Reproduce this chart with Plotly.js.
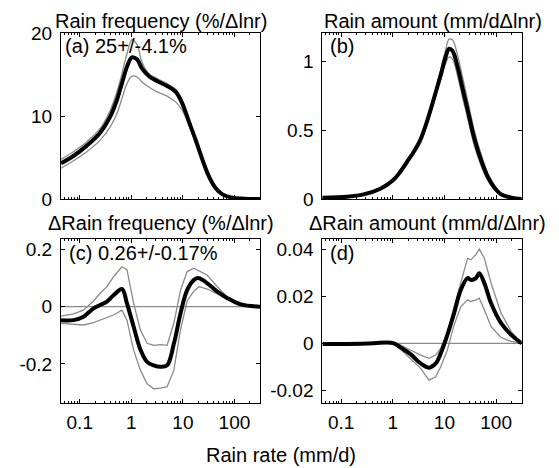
<!DOCTYPE html>
<html>
<head>
<meta charset="utf-8">
<script src="https://cdn.plot.ly/plotly-3.0.1.min.js"></script>
<style>html,body{margin:0;padding:0;background:#fff}#chart{width:559px;height:468px}</style>
</head>
<body>
<div id="chart"></div>
<script>
// ---------- DATA ----------
// (a) Rain frequency (%/Δlnr)
const rateA = [0.0433,0.0753,0.137,0.249,0.390,0.526,0.658,0.824,1.03,1.29,1.61,2.18,3.16,4.95,7.2,9.7,13.1,17.7,23.8,32.1,43.3,58.4,84.9,154,313];
const freqMean = [4.30,5.18,6.43,7.99,9.92,11.93,13.94,15.94,17.07,16.83,15.74,14.82,14.22,13.61,12.93,11.53,9.32,7.11,4.78,2.69,1.29,0.56,0.20,0.04,0];
const freqHigh = [4.78,5.70,6.90,8.50,10.7,12.9,15.1,17.5,19.2,18.6,16.5,15.1,14.5,13.9,13.2,11.9,9.7,7.3,5.0,3.0,1.5,0.7,0.28,0.08,0];
const freqLow  = [3.70,4.60,5.70,7.10,8.7,10.3,12.1,13.9,14.8,14.7,14.1,13.5,12.9,12.4,11.7,10.7,8.9,6.8,4.5,2.5,1.2,0.5,0.16,0.02,0];

// (b) Rain amount (mm/dΔlnr)
const rateB = [0.0433,0.129,0.272,0.575,1,1.41,2.05,2.56,3.46,4.66,6.29,8.48,10.6,12.3,14.3,17.9,22.4,28.1,37.8,51.0,68.8,92.8,125,196,313];
const amtMean = [0.0097,0.017,0.034,0.075,0.134,0.20,0.29,0.345,0.435,0.572,0.735,0.905,1.039,1.095,1.080,0.966,0.808,0.650,0.443,0.285,0.163,0.083,0.034,0.0097,0];
const amtHigh = [0.012,0.020,0.038,0.080,0.140,0.205,0.295,0.350,0.445,0.590,0.755,0.940,1.09,1.165,1.16,1.05,0.89,0.72,0.50,0.33,0.19,0.10,0.045,0.012,0];
const amtLow  = [0.007,0.014,0.030,0.070,0.128,0.195,0.285,0.340,0.425,0.555,0.720,0.870,0.99,1.035,1.02,0.90,0.74,0.59,0.39,0.245,0.135,0.065,0.025,0.006,0];

// (c) ΔRain frequency (%/Δlnr)
const rateC = [0.0433,0.0753,0.118,0.185,0.249,0.336,0.453,0.658,0.823,1.11,1.5,2.02,2.72,3.67,4.95,6.68,9.01,12.1,16.4,20.5,29.8,46.6,73.1,133,313];
const dFreqMean = [-0.047,-0.047,-0.035,-0.006,0.006,0.018,0.040,0.062,0.012,-0.070,-0.150,-0.193,-0.205,-0.210,-0.205,-0.130,-0.023,0.058,0.094,0.100,0.082,0.053,0.030,0.008,0];
const dFreqHigh = [-0.033,-0.025,-0.012,0.020,0.047,0.070,0.105,0.140,0.130,0.012,-0.082,-0.128,-0.135,-0.133,-0.135,-0.058,0.058,0.123,0.135,0.125,0.110,0.070,0.033,0.009,0];
const dFreqLow  = [-0.058,-0.062,-0.064,-0.056,-0.047,-0.040,-0.029,-0.012,-0.047,-0.152,-0.222,-0.270,-0.287,-0.285,-0.280,-0.222,-0.080,0.020,0.055,0.070,0.062,0.045,0.026,0.007,0];

// (d) ΔRain amount (mm/d/Δlnr)
const rateD = [0.044,0.129,0.427,0.776,1.05,1.41,2.21,3.46,5.03,6.78,8.48,11.4,15.4,20.8,28.1,32.6,40.8,47.3,59.3,80,125,196,313];
const dAmtMean = [-0.0003,-0.0003,0,0.0004,0,-0.0017,-0.0046,-0.0086,-0.0104,-0.0086,-0.0043,0.0036,0.0129,0.0229,0.0279,0.0271,0.0279,0.0300,0.0257,0.0171,0.0086,0.0036,0];
const dAmtHigh = [0,0,0.0002,0.0005,0.0003,-0.0007,-0.0030,-0.0050,-0.0064,-0.0050,-0.0020,0.0045,0.0157,0.0257,0.0364,0.0357,0.0380,0.0403,0.0364,0.0257,0.0129,0.0050,0];
const dAmtLow  = [-0.0004,-0.0004,-0.0002,0.0002,-0.0003,-0.0025,-0.0064,-0.0107,-0.0157,-0.0143,-0.0100,-0.0029,0.0079,0.0157,0.0186,0.0179,0.0186,0.0193,0.0143,0.0071,0.0025,0.0008,0];

const xTickVals = [0.1,1,10,100];
const xTickText = ['0.1','1','10','100'];
const yTicksA = {vals:[0,10,20], text:['0','10','20']};
const yTicksB = {vals:[0,0.5,1], text:['0','0.5','1']};
const yTicksC = {vals:[-0.2,0,0.2], text:['-0.2','0','0.2']};
const yTicksD = {vals:[-0.02,0,0.02,0.04], text:['-0.02','0','0.02','0.04']};

// ---------- LAYOUT HELPERS ----------
const W = 559, H = 468;
const px = v => v / W;
const py = v => 1 - v / H;
const FONT = 'Liberation Sans, Arial, Helvetica, sans-serif';
const GRAY = '#8a8a8a';
const TICK_SIZE = 19;

const minorVals = [];
for (let d = -2; d <= 2; d++) for (let k = 2; k <= 9; k++) minorVals.push(k * Math.pow(10, d));

const xRange = [Math.log10(0.0433), Math.log10(313)];

function xAxis(domain, anchor, labels) {
  return {
    type: 'log', range: xRange, domain: domain, anchor: anchor,
    showline: true, linecolor: '#000', linewidth: 1, mirror: 'ticks',
    ticks: 'inside', ticklen: 4, tickcolor: '#000',
    tickmode: 'array', tickvals: xTickVals, ticktext: xTickText,
    showticklabels: labels, ticklabelstandoff: 2,
    minor: {tickmode: 'array', tickvals: minorVals, ticks: 'inside', ticklen: 2, tickcolor: '#000'},
    showgrid: false, zeroline: false,
    tickfont: {family: FONT, size: TICK_SIZE, color: '#000'}
  };
}
function yAxis(domain, anchor, range, t) {
  return {
    range: range, domain: domain, anchor: anchor,
    showline: true, linecolor: '#000', linewidth: 1, mirror: 'ticks',
    ticks: 'inside', ticklen: 4, tickcolor: '#000',
    tickmode: 'array', tickvals: t.vals, ticktext: t.text,
    ticklabelstandoff: 4,
    showgrid: false, zeroline: false,
    tickfont: {family: FONT, size: TICK_SIZE, color: '#000'}
  };
}

function band(x, hi, lo, mean, xa, ya, smooth) {
  const g = {color: GRAY, width: 1.3};
  if (smooth) { g.shape = 'spline'; g.smoothing = 1; }
  return [
    {x: x, y: hi, xaxis: xa, yaxis: ya, mode: 'lines', line: g, hoverinfo: 'skip'},
    {x: x, y: lo, xaxis: xa, yaxis: ya, mode: 'lines', line: g, hoverinfo: 'skip'},
    {x: x, y: mean, xaxis: xa, yaxis: ya, mode: 'lines', line: {color: '#000', width: 4, shape: 'spline', smoothing: 1}, hoverinfo: 'skip'}
  ];
}

const traces = [].concat(
  band(rateA, freqHigh, freqLow, freqMean, 'x', 'y', true),
  band(rateB, amtHigh, amtLow, amtMean, 'x2', 'y2', true),
  band(rateC, dFreqHigh, dFreqLow, dFreqMean, 'x3', 'y3', false),
  band(rateD, dAmtHigh, dAmtLow, dAmtMean, 'x4', 'y4', false)
);

const domTopY = [py(199), py(33)];
const domBotY = [py(403), py(239)];
const domLX = [px(61), px(260)];
const domRX = [px(322.3), px(521.7)];

function txt(text, x, baseline, anchor, size) {
  return {text: text, xref: 'paper', yref: 'paper', x: px(x), y: py(baseline - 0.35 * size),
          xanchor: anchor, yanchor: 'middle', showarrow: false,
          font: {family: FONT, size: size, color: '#000'}};
}

const layout = {
  width: W, height: H, margin: {l: 0, r: 0, t: 0, b: 0},
  paper_bgcolor: '#fff', plot_bgcolor: '#fff', showlegend: false,
  xaxis: xAxis(domLX, 'y', false),
  yaxis: yAxis(domTopY, 'x', [0, 20], yTicksA),
  xaxis2: xAxis(domRX, 'y2', false),
  yaxis2: yAxis(domTopY, 'x2', [0, 1.21], yTicksB),
  xaxis3: xAxis(domLX, 'y3', true),
  yaxis3: yAxis(domBotY, 'x3', [-0.337, 0.237], yTicksC),
  xaxis4: xAxis(domRX, 'y4', true),
  yaxis4: yAxis(domBotY, 'x4', [-0.0255, 0.0446], yTicksD),
  shapes: [
    {type: 'line', xref: 'x3 domain', yref: 'y3', x0: 0, x1: 1, y0: 0, y1: 0, line: {color: GRAY, width: 1.3}, layer: 'below'},
    {type: 'line', xref: 'x4 domain', yref: 'y4', x0: 0, x1: 1, y0: 0, y1: 0, line: {color: GRAY, width: 1.3}, layer: 'below'}
  ],
  annotations: [
    txt('Rain frequency (%/\u0394lnr)', 161, 28, 'center', 20),
    txt('Rain amount (mm/d\u0394lnr)', 433, 28, 'center', 20),
    txt('\u0394Rain frequency (%/\u0394lnr)', 161, 230, 'center', 20),
    txt('\u0394Rain amount (mm/d/\u0394lnr)', 427, 230, 'center', 20),
    txt('Rain rate (mm/d)', 281, 462, 'center', 20),
    txt('(a) 25+/-4.1%', 63, 53, 'left', 20),
    txt('(b)', 328, 53, 'left', 20),
    txt('(c) 0.26+/-0.17%', 67, 260, 'left', 20),
    txt('(d)', 328, 260, 'left', 20)
  ]
};

Plotly.newPlot('chart', traces, layout, {staticPlot: true, displayModeBar: false});
</script>
</body>
</html>
